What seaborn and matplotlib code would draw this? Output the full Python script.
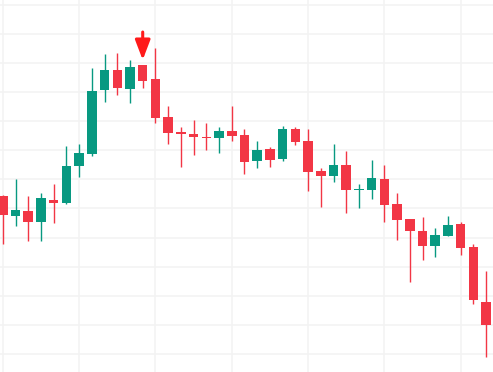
import numpy as np
import pandas as pd
import seaborn as sns
import matplotlib
matplotlib.use("Agg")
import matplotlib.pyplot as plt

# OHLC values (arbitrary price units)
opens = [154.3, 147.4, 149.1, 145.4, 152.9, 151.9, 164.6, 168.7, 190.7, 197.6,
         191.1, 199.3, 194.5, 181.4, 176.3, 175.6, 174.6, 174.2, 176.6, 175.2,
         166.3, 170.4, 167.0, 177.3, 173.2, 162.9, 161.2, 164.9, 156.3, 156.4,
         160.1, 151.5, 146.4, 142.3, 137.1, 140.5, 144.7, 136.8, 117.9]
highs = [154.6, 160.1, 154.3, 155.3, 158.4, 171.5, 172.2, 198.3, 203.1, 203.4,
         201.0, 199.3, 205.1, 185.2, 178.0, 180.4, 179.4, 178.0, 185.2, 177.3,
         173.2, 171.1, 178.3, 178.0, 177.3, 163.9, 172.2, 169.8, 158.4, 166.7,
         164.9, 155.3, 146.4, 147.1, 143.3, 147.4, 145.4, 137.8, 128.5]
lows = [137.8, 144.0, 138.8, 138.8, 145.0, 151.5, 160.8, 168.0, 186.6, 189.0,
        186.2, 191.4, 179.4, 172.2, 164.3, 168.4, 170.1, 169.1, 173.2, 161.8,
        163.9, 164.3, 166.3, 171.8, 156.0, 150.5, 159.1, 148.4, 150.2, 153.3,
        145.4, 139.2, 124.7, 132.3, 133.3, 140.5, 134.0, 117.2, 99.0]
closes = [147.8, 149.5, 145.4, 153.6, 151.9, 164.6, 169.1, 190.4, 197.6, 191.4,
          198.6, 193.8, 181.1, 175.9, 175.6, 174.6, 174.2, 176.6, 174.9, 166.0,
          170.1, 166.7, 177.3, 172.8, 162.5, 161.2, 164.9, 156.4, 156.5, 160.5,
          151.2, 146.0, 142.3, 137.1, 140.9, 144.3, 136.4, 118.6, 110.0]

signal_bar = 11          # candle marked by the arrow
arrow_top, arrow_tip = 210.6, 201.0

UP = "#089981"
DOWN = "#F23645"

df = pd.DataFrame({"open": opens, "high": highs, "low": lows, "close": closes})
df["idx"] = np.arange(len(df))
df["up"] = df["close"] >= df["open"]
df["color"] = np.where(df["up"], UP, DOWN)
df["body_lo"] = df[["open", "close"]].min(axis=1)
df["body_h"] = (df["close"] - df["open"]).abs().clip(lower=0.45)

sns.set_theme(style="whitegrid", rc={"grid.color": "#f3f3f3", "grid.linewidth": 1.1})

fig = plt.figure(figsize=(4.93, 3.72), dpi=100)
ax = fig.add_axes([0, 0, 1, 1])

ax.vlines(df["idx"], df["low"], df["high"], colors=df["color"], linewidth=1.0, zorder=2)
ax.bar(df["idx"], df["body_h"], bottom=df["body_lo"], width=0.75,
       color=df["color"], linewidth=0, zorder=3)

ax.annotate("", xy=(signal_bar, arrow_tip), xytext=(signal_bar, arrow_top),
            arrowprops=dict(arrowstyle="-|>,head_width=0.38,head_length=1.0",
                            color="#ff1a1a", lw=2.2, shrinkA=0, shrinkB=0),
            zorder=4)

ax.set_xlim(-0.22, 38.54)
ax.set_ylim(93.8, 221.6)
ax.set_xticks(np.arange(0, 39, 6))
ax.set_yticks(np.arange(100, 221, 10))
ax.tick_params(length=0, labelbottom=False, labelleft=False)
ax.set_facecolor("white")
sns.despine(ax=ax, left=True, bottom=True)

fig.savefig("out.png", dpi=100, facecolor="white")
